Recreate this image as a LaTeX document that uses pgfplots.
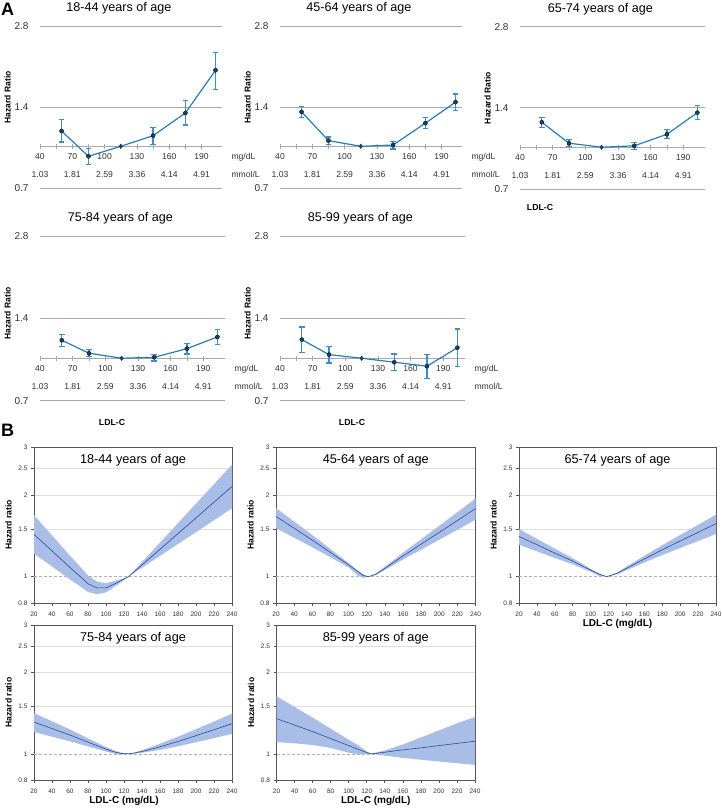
\documentclass[border=0pt]{standalone}
\usepackage{pgfplots}
\pgfplotsset{compat=1.18}
\usepackage{pgfplotstable}
\usepackage{fontspec}
\setmainfont{Liberation Sans}

\definecolor{aline}{HTML}{2A7DB0}
\definecolor{aerr}{HTML}{3C8FC6}
\definecolor{amark}{HTML}{1E3F62}
\definecolor{agrid}{HTML}{A8A8A8}
\definecolor{bband}{HTML}{A9BEE6}
\definecolor{bline}{HTML}{2B4A9C}
\definecolor{bframe}{HTML}{555555}

% ---- panel A: HR by LDL-C category (x = category midpoint, mg/dL)
\pgfplotstableread{
x   hr    lo    hi
60  1.140 1.037 1.256
85  0.918 0.857 0.983
115 1.000 1.000 1.000
145 1.095 1.018 1.173
175 1.330 1.200 1.480
203 1.917 1.630 2.230
}\Aone
\pgfplotstableread{
x   hr    lo    hi
60  1.343 1.280 1.410
85  1.050 1.015 1.083
115 1.000 1.000 1.000
145 1.011 0.977 1.044
175 1.219 1.161 1.276
203 1.460 1.355 1.564
}\Atwo
\pgfplotstableread{
x   hr    lo    hi
60  1.238 1.183 1.292
85  1.035 1.009 1.065
115 1.000 1.000 1.000
145 1.012 0.981 1.043
175 1.117 1.077 1.166
203 1.344 1.266 1.431
}\Athree
\pgfplotstableread{
x   hr    lo    hi
60  1.164 1.106 1.224
85  1.043 1.017 1.075
115 1.000 1.000 1.000
145 1.008 0.977 1.034
175 1.084 1.037 1.131
203 1.196 1.119 1.276
}\Afour
\pgfplotstableread{
x   hr    lo    hi
60  1.170 1.048 1.302
85  1.031 0.961 1.106
115 1.000 1.000 1.000
145 0.967 0.901 1.037
175 0.935 0.845 1.034
203 1.093 0.935 1.280
}\Afive

% ---- panel B: spline HR (c) and its 95% CI band (upper limit forward, lower limit back)
\pgfplotstableread{
x   c
20  1.430
30  1.334
40  1.244
50  1.160
60  1.080
70  1.010
80  0.942
90  0.909
100 0.909
110 0.942
120 0.980
125 1.000
130 1.034
140 1.105
160 1.261
180 1.441
200 1.645
220 1.880
240 2.146
}\Bone
\pgfplotstableread{
x y
20 1.684
30 1.546
40 1.419
50 1.302
60 1.195
70 1.100
80 1.010
90 0.960
100 0.946
110 0.964
120 0.988
125 1.000
130 1.042
140 1.132
160 1.334
180 1.574
200 1.857
220 2.190
240 2.582
240 1.784
220 1.613
200 1.458
180 1.319
160 1.192
140 1.079
130 1.026
125 1.000
120 0.972
110 0.920
100 0.875
90 0.862
80 0.878
70 0.928
60 0.976
50 1.033
40 1.090
30 1.151
20 1.215
}\BoneCI
\pgfplotstableread{
x   c
20  1.665
40  1.507
60  1.363
80  1.228
100 1.105
110 1.046
116 1.010
122 1.000
130 1.020
140 1.073
160 1.191
180 1.317
200 1.455
220 1.608
240 1.781
}\Btwo
\pgfplotstableread{
x y
20 1.788
40 1.595
60 1.423
80 1.264
100 1.122
110 1.055
116 1.022
122 1.000
130 1.026
140 1.087
160 1.224
180 1.373
200 1.539
220 1.726
240 1.939
240 1.621
220 1.487
200 1.367
180 1.257
160 1.156
140 1.057
130 1.014
122 1.000
116 0.990
110 1.010
100 1.082
80 1.178
60 1.283
40 1.391
20 1.508
}\BtwoCI
\pgfplotstableread{
x   c
20  1.406
40  1.311
60  1.221
80  1.141
100 1.057
110 1.020
118 1.000
130 1.030
140 1.073
160 1.162
180 1.256
200 1.353
220 1.455
240 1.567
}\Bthree
\pgfplotstableread{
x y
20 1.497
40 1.378
60 1.267
80 1.169
100 1.069
110 1.025
118 1.000
130 1.038
140 1.088
160 1.193
180 1.306
200 1.424
220 1.552
240 1.692
240 1.435
220 1.352
200 1.275
180 1.201
160 1.127
140 1.056
130 1.022
118 1.000
110 1.005
100 1.043
80 1.110
60 1.171
40 1.239
20 1.310
}\BthreeCI
\pgfplotstableread{
x   c
20  1.311
40  1.240
60  1.174
80  1.105
100 1.041
110 1.015
117 1.003
125 1.000
130 1.005
140 1.020
160 1.062
180 1.111
200 1.168
220 1.228
240 1.293
}\Bfour
\pgfplotstableread{
x y
20 1.416
40 1.320
60 1.231
80 1.142
100 1.060
110 1.026
117 1.010
125 1.000
130 1.009
140 1.031
160 1.090
180 1.157
200 1.234
220 1.317
240 1.408
240 1.186
220 1.143
200 1.104
180 1.066
160 1.034
140 1.009
130 1.001
125 1.000
117 0.993
110 1.000
100 1.020
80 1.065
60 1.113
40 1.157
20 1.204
}\BfourCI
\pgfplotstableread{
x   c
20  1.350
40  1.278
60  1.209
80  1.139
100 1.073
110 1.041
120 1.012
125 1.000
130 1.004
140 1.014
160 1.034
180 1.052
200 1.073
220 1.093
240 1.114
}\Bfive
\pgfplotstableread{
x y
20 1.634
40 1.492
60 1.363
80 1.240
100 1.128
110 1.078
120 1.020
125 1.000
130 1.010
140 1.030
160 1.083
180 1.150
200 1.221
220 1.297
240 1.369
240 0.910
220 0.923
200 0.937
180 0.951
160 0.966
140 0.985
130 0.995
125 1.000
120 0.997
110 0.995
100 1.010
80 1.051
60 1.078
40 1.094
20 1.105
}\BfiveCI

% A panel: #1 left, #2 bottom, #3 width, #4 height, #5 xmax, #6 title, #7 data, #8 ylabel pos
\newcommand{\Apanel}[8]{%
\begin{axis}[at={(#1pt,#2pt)}, anchor=south west, scale only axis,
  width=#3pt, height=#4pt, clip=false,
  ymode=log, ymin=0.7, ymax=2.8, xmin=40, xmax=#5,
  axis line style={draw=none}, xtick=\empty,
  ytick={0.7,1.4,2.8}, yticklabels={0.7,1.4,2.8},
  ytick style={draw=none},
  ymajorgrids, major grid style={agrid, line width=0.8pt},
  yticklabel style={font=\fontsize{10}{12}\selectfont, text=black!80, xshift=-8pt},
  title={#6},
  title style={at={(0.434,1)}, anchor=base, yshift=8.5pt,
    font=\fontsize{12.6}{14}\selectfont},
  ylabel={Hazard Ratio},
  ylabel style={at={([xshift=-32.5pt]axis description cs:0,#8)}, anchor=center,
    font=\bfseries\fontsize{8.5}{10}\selectfont}]
  \addplot[only marks, mark=none, forget plot, skip coords between index={2}{3},
    error bars/y dir=both, error bars/y explicit,
    error bars/error bar style={aerr, line width=1.2pt},
    error bars/error mark options={rotate=90, aerr, line width=1.2pt, mark size=2.8pt}]
    table[x=x, y=hr, y error plus expr=\thisrow{hi}-\thisrow{hr},
      y error minus expr=\thisrow{hr}-\thisrow{lo}] {#7};
  \addplot[aline, line width=1.2pt, mark=diamond*, mark size=2.2pt,
    mark options={amark, fill=amark, line width=0.5pt}] table[x=x, y=hr] {#7};
\end{axis}}

% x axis of an A panel, drawn at HR = 1: #1 left, #2 baseline, #3 width, #4 xmax, #5 extra
\newcommand{\Axaxis}[5]{%
\begin{axis}[at={(#1pt,#2pt)}, anchor=south west, scale only axis,
  width=#3pt, height=10pt, clip=false,
  xmin=40, xmax=#4, ymin=0, ymax=1,
  axis x line=bottom, axis y line=none,
  axis line style={-, agrid, line width=0.7pt}, ytick=\empty,
  xtick={40,70,100,130,160,190},
  xticklabels={{40\\1.03},{70\\1.81},{100\\2.59},{130\\3.36},{160\\4.14},{190\\4.91}},
  xticklabel style={anchor=north, align=center, inner sep=0pt, yshift=-4.6pt,
    font=\fontsize{8.6}{17.8}\selectfont, text=black!80},
  minor x tick num=1, tick align=center,
  major tick length=5pt, minor tick length=5pt,
  xtick style={agrid, line width=0.6pt}]
  #5
\end{axis}}
\newcommand{\Aunits}{%
  \node[anchor=base west, font=\fontsize{8.6}{10}\selectfont, text=black!80]
    at ([xshift=6pt, yshift=-13.6pt]rel axis cs:1,0) {mg/dL};
  \node[anchor=base west, font=\fontsize{8.6}{10}\selectfont, text=black!80]
    at ([xshift=6pt, yshift=-31.4pt]rel axis cs:1,0) {mmol/L};}

% B panel: #1 left, #2 bottom, #3 width, #4 height, #5 title, #6 curve, #7 band, #8 extra options
\newcommand{\Bpanel}[8]{%
\begin{axis}[at={(#1pt,#2pt)}, anchor=south west, scale only axis,
  width=#3pt, height=#4pt,
  ymode=log, ymin=0.8, ymax=3, xmin=20, xmax=240,
  axis line style={bframe, line width=0.7pt},
  xtick={20,40,...,240},
  xticklabel={\pgfmathprintnumber[assume math mode=true]{\tick}},
  ytick={0.8,1.5,2,2.5,3}, yticklabels={0.8,1.5,2,2.5,3},
  extra y ticks={1}, extra y tick labels={1},
  extra y tick style={major grid style={densely dashed, black!30, line width=0.5pt}},
  ymajorgrids, major grid style={black!13, line width=0.6pt},
  tick align=outside, tick pos=left, major tick length=3pt,
  tick style={bframe, line width=0.6pt},
  ticklabel style={font=\fontsize{6.5}{8}\selectfont, text=black!80},
  xticklabel style={yshift=-2pt},
  title={#5},
  title style={at={(0.5,1)}, anchor=base, yshift=-22.3pt,
    font=\fontsize{12.7}{14}\selectfont},
  ylabel={Hazard ratio},
  ylabel style={at={([xshift=-25.5pt]axis description cs:0,0.5)}, anchor=center,
    font=\bfseries\fontsize{8.6}{10}\selectfont},
  xlabel style={font=\bfseries\fontsize{10}{12}\selectfont},
  #8]
  \addplot[fill=bband, draw=none, forget plot] table[x=x, y=y] {#7};
  \addplot[bline, line width=0.6pt] table[x=x, y=c] {#6};
\end{axis}}

\begin{document}
\begin{tikzpicture}
\useasboundingbox (0pt,0pt) rectangle (722pt,808pt);

% ================= A =================
\Axaxis{40}{661.7}{182}{209}{\Aunits}
\Apanel{40}{620}{182}{162}{209}{18-44 years of age}{\Aone}{0.56}
\Axaxis{280}{661.7}{182}{209}{\Aunits}
\Apanel{280}{620}{182}{162}{209}{45-64 years of age}{\Atwo}{0.56}
\Axaxis{520}{660.8}{185}{210}{}
\Apanel{520}{619}{185}{162.3}{210}{65-74 years of age}{\Athree}{0.56}
\Axaxis{40}{449.8}{185}{210}{\Aunits}
\Apanel{40}{407.4}{185}{164.6}{210}{75-84 years of age}{\Afour}{0.53}
\Axaxis{280}{449.8}{185}{210}{\Aunits}
\Apanel{280}{407.4}{185}{164.6}{210}{85-99 years of age}{\Afive}{0.53}

% ================= B =================
\Bpanel{34}{205}{198}{156}{18-44 years of age}{\Bone}{\BoneCI}{}
\Bpanel{276}{205}{199.5}{156}{45-64 years of age}{\Btwo}{\BtwoCI}{}
\Bpanel{519}{205}{197}{156}{65-74 years of age}{\Bthree}{\BthreeCI}{xlabel={LDL-C (mg/dL)},
  xlabel style={at={([yshift=-21pt]axis description cs:0.5,0)}, anchor=center}}
\Bpanel{34}{28}{198}{155}{75-84 years of age}{\Bfour}{\BfourCI}{xlabel={LDL-C (mg/dL)},
  xlabel style={at={([xshift=-9pt, yshift=-21pt]axis description cs:0.5,0)}, anchor=center}}
\Bpanel{276.5}{28}{198.5}{155}{85-99 years of age}{\Bfive}{\BfiveCI}{xlabel={LDL-C (mg/dL)},
  xlabel style={at={([yshift=-21pt]axis description cs:0.5,0)}, anchor=center}}

% panel letters and shared axis captions
\node[anchor=base west, inner sep=0pt, font=\bfseries\fontsize{18}{20}\selectfont] at (1pt,792pt) {A};
\node[anchor=base west, inner sep=0pt, font=\bfseries\fontsize{18}{20}\selectfont] at (1pt,371.3pt) {B};
\node[font=\bfseries\fontsize{8.7}{10}\selectfont] at (540pt,600pt) {LDL-C};
\node[font=\bfseries\fontsize{8.7}{10}\selectfont] at (112pt,385pt) {LDL-C};
\node[font=\bfseries\fontsize{8.7}{10}\selectfont] at (352pt,385pt) {LDL-C};
\end{tikzpicture}
\end{document}
